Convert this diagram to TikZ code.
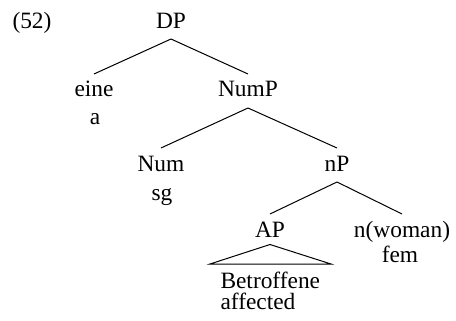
\documentclass[tikz,border=0pt]{standalone}
\usepackage{fontspec}
\setmainfont{Liberation Serif}
\newfontfamily\treefont{Liberation Serif}

\begin{document}
\begin{tikzpicture}[x=0.5pt,y=-0.5pt,line width=0.5pt,
    cat/.style={anchor=base,inner sep=0pt,text height=11.25pt,text depth=5.25pt,font=\treefont\fontsize{11.7}{14}\selectfont},
    gloss/.style={anchor=base,inner sep=0pt,font=\treefont\fontsize{11.7}{14}\selectfont}]
    \useasboundingbox (0,0) rectangle (456,321);

    \node[gloss,anchor=base west] (exno) at (12,28) {(52)};

    \node[cat] (dp) at (171,28) {DP};
    \node[cat] (eine) at (94,97) {eine};
    \node[cat] (nump) at (248,97) {NumP};
    \node[cat] (num) at (161,171) {Num};
    \node[cat] (np) at (337,171) {nP};
    \node[cat] (ap) at (270,237) {AP};
    \node[cat] (n) at (402,237) {n(woman)};

    \node[gloss] (a) at (95,124) {a};
    \node[gloss] (sg) at (162,200) {sg};
    \node[gloss] (fem) at (400,262) {fem};
    \node[gloss,anchor=base west] (betr) at (220,288) {Betroffene};
    \node[gloss,anchor=base west] (aff) at (220,309) {affected};

    \foreach \from/\to in {dp/eine,dp/nump,nump/num,nump/np,np/ap,np/n}
        \draw (\from.south)--(\to.north);

    % triangle over the AP
    \coordinate (tl) at (210,264);
    \coordinate (tr) at (331,264);
    \draw ([yshift=1.75pt]ap.south) -- (tl) -- (tr) -- cycle;
\end{tikzpicture}
\end{document}
